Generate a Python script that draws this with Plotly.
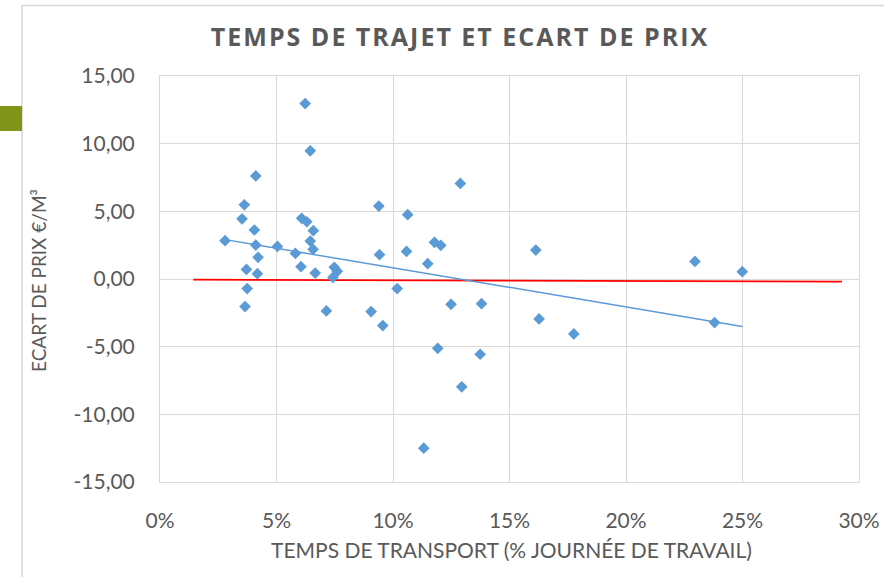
import numpy as np
import plotly.graph_objects as go

# Temps de transport (% journée de travail) et écart de prix (€/m³)
temps_pct = [2.79, 3.52, 3.62, 4.11, 4.05, 4.11, 4.21, 3.71, 4.18, 3.74, 3.65,
             5.04, 5.81, 6.05, 6.23, 6.45, 6.08, 6.30, 6.58, 6.45, 6.57, 6.66,
             7.48, 7.61, 7.42, 7.14, 9.06, 9.56, 9.39, 9.42, 10.63, 10.58, 10.18,
             11.49, 11.78, 12.05, 11.92, 11.32, 12.49, 12.89, 13.80, 13.74, 12.95,
             16.13, 16.27, 17.76, 22.96, 23.80, 24.99]
ecart_prix = [2.83, 4.45, 5.48, 7.62, 3.62, 2.51, 1.60, 0.71, 0.39, -0.71, -2.04,
              2.41, 1.89, 0.91, 12.96, 9.47, 4.48, 4.23, 3.57, 2.80, 2.19, 0.44,
              0.86, 0.57, 0.12, -2.36, -2.41, -3.44, 5.39, 1.80, 4.75, 2.04, -0.71,
              1.13, 2.71, 2.49, -5.12, -12.50, -1.87, 7.06, -1.82, -5.56, -7.97,
              2.14, -2.95, -4.06, 1.30, -3.22, 0.54]
ligne_ref_x = [1.43, 29.27]
ligne_ref_y = [-0.05, -0.20]

x_ticks = [0, 5, 10, 15, 20, 25, 30]
x_labels = ["0%", "5%", "10%", "15%", "20%", "25%", "30%"]
y_ticks = [15, 10, 5, 0, -5, -10, -15]
y_labels = ["15,00", "10,00", "5,00", "0,00", "-5,00", "-10,00", "-15,00"]

xs = np.array(temps_pct)
ys = np.array(ecart_prix)
slope, intercept = np.polyfit(xs, ys, 1)
trend_x = np.array([xs.min(), xs.max()])
trend_y = slope * trend_x + intercept

W, H = 884, 577
L, R, T, B = 160, 25, 76, 95
TXT = "#595959"
GRID = "#D9D9D9"

fig = go.Figure()
fig.add_trace(go.Scatter(x=ligne_ref_x, y=ligne_ref_y, mode="lines",
                         line=dict(color="#FF0000", width=1.8), hoverinfo="skip"))
fig.add_trace(go.Scatter(x=trend_x, y=trend_y, mode="lines",
                         line=dict(color="#5B9BD5", width=1.5), hoverinfo="skip"))
fig.add_trace(go.Scatter(x=temps_pct, y=ecart_prix, mode="markers",
                         marker=dict(symbol="diamond", size=9, color="#5B9BD5",
                                     line=dict(width=0))))

fig.update_layout(
    width=W, height=H, autosize=False,
    margin=dict(l=L, r=R, t=T, b=B, autoexpand=False),
    paper_bgcolor="white", plot_bgcolor="white",
    showlegend=False,
    font=dict(family="Lato", color=TXT),
    title=dict(text="<b>TEMPS DE TRAJET ET ECART DE PRIX</b>",
               font=dict(family="Open Sans", size=25, color=TXT),
               x=460 / W, xanchor="center", y=1 - 37 / H, yanchor="middle",
               xref="container", yref="container"),
)
fig.update_xaxes(range=[0, 30], tickvals=x_ticks, ticktext=x_labels,
                 showgrid=True, gridcolor=GRID, gridwidth=1, automargin=False,
                 zeroline=False, showline=True, linecolor=GRID, mirror=True,
                 ticks="", tickfont=dict(size=21, color=TXT, family="Lato"),
                 ticklabelstandoff=20)
fig.update_yaxes(range=[-15, 15], tickvals=y_ticks, ticktext=y_labels,
                 showgrid=True, gridcolor=GRID, gridwidth=1, automargin=False,
                 zeroline=False, showline=True, linecolor=GRID, mirror=True,
                 ticks="", tickfont=dict(size=21, color=TXT, family="Lato"),
                 ticklabelstandoff=20)

pw = W - L - R
ph = H - T - B

def px_x(v):
    return (v - L) / pw

def px_y(v):
    return (H - B - v) / ph

fig.add_annotation(text="ECART DE PRIX €/M³", textangle=-90,
                   x=px_x(38), y=px_y(281), xref="paper", yref="paper",
                   showarrow=False, font=dict(size=19, color=TXT, family="Lato"),
                   xanchor="center", yanchor="middle")
fig.add_annotation(text="TEMPS DE TRANSPORT (% JOURNÉE DE TRAVAIL)",
                   x=px_x(511), y=px_y(549), xref="paper", yref="paper",
                   showarrow=False, font=dict(size=21, color=TXT, family="Lato"),
                   xanchor="center", yanchor="middle")

# Slide frame and olive accent
fig.add_shape(type="line", xref="paper", yref="paper",
              x0=px_x(22), x1=px_x(884), y0=px_y(5.5), y1=px_y(5.5),
              line=dict(color="#D6D6D6", width=1.5))
fig.add_shape(type="line", xref="paper", yref="paper",
              x0=px_x(22), x1=px_x(22), y0=px_y(5.5), y1=px_y(577),
              line=dict(color="#D6D6D6", width=1.5))
fig.add_shape(type="rect", xref="paper", yref="paper",
              x0=px_x(0), x1=px_x(22), y0=px_y(106), y1=px_y(131),
              line=dict(width=0), fillcolor="#7F9419")

post = """
document.body.style.margin = '0';
var t = document.querySelector('.gtitle');
if (t) { t.style.letterSpacing = '2px'; }
"""
fig.write_html("out.html", post_script=post, config={"displayModeBar": False})
